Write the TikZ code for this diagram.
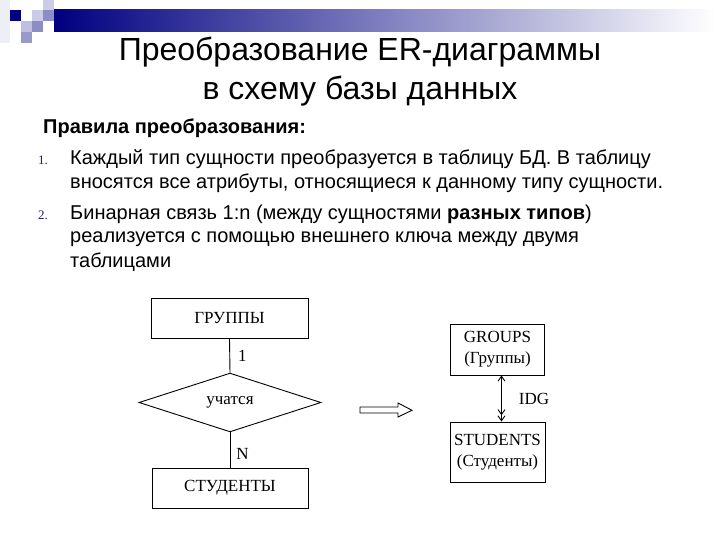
\documentclass[tikz,border=0pt]{standalone}
\usepackage{fontspec}
\setmainfont{Liberation Sans}
\newfontfamily\erfont{Liberation Serif}
\usetikzlibrary{shapes.geometric,arrows.meta}
\definecolor{navy}{HTML}{000080}
\definecolor{lavender}{HTML}{CCCCE6}
\definecolor{midlav}{HTML}{8C8CC6}
\definecolor{palelav}{HTML}{EEEEF6}
\definecolor{itemnum}{HTML}{1F1F6E}

\begin{document}
\begin{tikzpicture}[x=1pt,y=-1pt,
      entity/.style={draw,line width=0.9pt,inner sep=0pt,font=\erfont\fontsize{17}{19}\selectfont},
      relation/.style={draw,diamond,line width=0.9pt,inner sep=0pt,font=\erfont\fontsize{17}{19}\selectfont},
      table/.style={draw,line width=0.9pt,inner sep=0pt,align=center,font=\erfont\fontsize{17}{21}\selectfont},
      card/.style={font=\erfont\fontsize{17}{19}\selectfont,inner sep=1pt},
      body/.style={anchor=base west,inner sep=0pt,font=\fontsize{20}{23}\selectfont},
      num/.style={anchor=base west,inner sep=0pt,text=itemnum,font=\erfont\fontsize{13}{15}\selectfont}]
    \useasboundingbox (0,0) rectangle (720,540);

    % corner squares + title bar
    \fill[palelav] (0,0) rectangle (10,43);
    \fill[lavender] (43,0) rectangle (54,10);
    \fill[navy] (10,10) rectangle (21,21);
    \fill[lavender] (32,10) rectangle (43,21);
    \fill[midlav] (43,10) rectangle (54,21);
    \fill[lavender!80!midlav] (21,21) rectangle (32,32);
    \fill[midlav] (32,21) rectangle (43,32);
    \fill[midlav!80!lavender] (21,32) rectangle (32,43);
    \shade[left color=navy,right color=white] (54,10) rectangle (716,32);

    % title, two lines
    \node[anchor=base] (title1) at (360,61) {\fontsize{32}{36}\selectfont Преобразование ER-диаграммы};
    \node[anchor=base] (title2) at (360,100) {\fontsize{32}{36}\selectfont в схему базы данных};

    % rules
    \node[anchor=base west,inner sep=0pt] (head) at (43,134) {\fontsize{20}{22}\selectfont\bfseries Правила преобразования:};
    \node[num] (n1) at (38,165) {1.};
    \node[body] (r1a) at (70,165) {Каждый тип сущности преобразуется в таблицу БД. В таблицу};
    \node[body] (r1b) at (70,189) {вносятся все атрибуты, относящиеся к данному типу сущности.};
    \node[num] (n2) at (38,219) {2.};
    \node[body] (r2a) at (70,219) {Бинарная связь 1:n (между сущностями \textbf{разных типов})};
    \node[body] (r2b) at (70,243) {реализуется с помощью внешнего ключа между двумя};
    \node[body] (r2c) at (70,267) {таблицами};

    % ER diagram
    \node[entity,minimum width=157pt,minimum height=40pt] (grp) at (229.5,318) {ГРУППЫ};
    \node[relation,minimum width=182pt,minimum height=51pt] (rel) at (230,402.5) {учатся};
    \node[entity,minimum width=156pt,minimum height=40pt] (std) at (230,488) {СТУДЕНТЫ};
    \draw[line width=0.9pt] (grp.south) -- node[card,right=7pt] (one) {1} (rel.north);
    \draw[line width=0.9pt] (rel.south) -- node[card,right=5pt,yshift=-4pt] (many) {N} (std.north);

    % block arrow
    \draw[line width=0.9pt] (360,407) -- (398,407) -- (398,403) -- (412,410.3) -- (398,417) -- (398,413) -- (360,413) -- cycle;

    % tables
    \node[table,minimum width=94pt,minimum height=51pt] (groups) at (497.5,349.5) {GROUPS\\(Группы)};
    \node[table,minimum width=95pt,minimum height=60pt] (students) at (497.5,452) {STUDENTS\\(Студенты)};
    \draw[line width=0.9pt,{Straight Barb[length=5pt,width=7pt]}-{Straight Barb[length=5pt,width=7pt] Straight Barb[length=5pt,width=7pt]}]
      ([xshift=4pt]groups.south) -- node[card,right=16pt] (fk) {IDG} ([xshift=4pt]students.north);
\end{tikzpicture}
\end{document}
